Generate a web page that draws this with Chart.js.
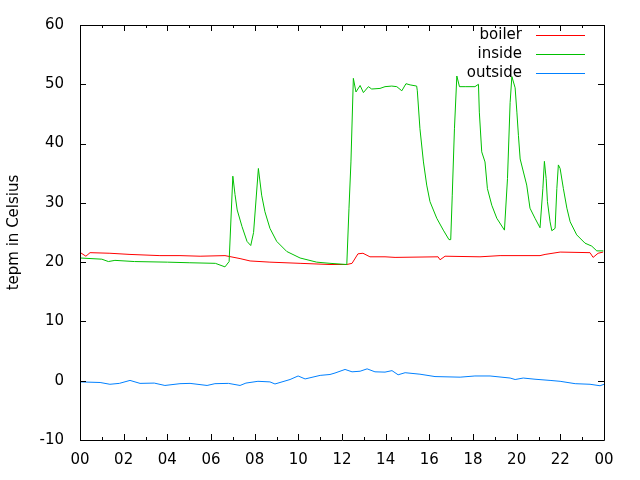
<!DOCTYPE html>
<html>
<head>
<meta charset="utf-8">
<script src="https://cdn.jsdelivr.net/npm/chart.js@4"></script>
<style>
  html, body { margin: 0; padding: 0; background: #fff; }
  canvas { display: block; }
</style>
</head>
<body>
<canvas id="tempChart" width="640" height="480"></canvas>
<script>
// Boiler temperature (red)
const boilerHours = [0, 0.27, 0.46, 1.37, 2.29, 3.66, 4.58, 5.5, 6.64, 7.33, 7.79, 8.7, 10.08, 11.45, 12.22,
  12.46, 12.73, 12.96, 13.28, 13.97, 14.43, 16.4, 16.49, 16.72, 18.32, 19.24, 21.07, 21.3, 21.99, 23.36,
  23.5, 23.73, 23.96];
const boilerTemps = [21.65, 21.0, 21.6, 21.5, 21.3, 21.1, 21.1, 21.0, 21.1, 20.6, 20.2, 20.0, 19.8, 19.6, 19.6,
  19.8, 21.4, 21.5, 20.9, 20.9, 20.8, 20.9, 20.4, 21.0, 20.9, 21.1, 21.1, 21.3, 21.7, 21.6,
  20.8, 21.5, 21.7];

// Inside temperature (green)
const insideHours = [0, 1.0, 1.3, 1.6, 2.5, 4.0, 5.0, 6.2, 6.64, 6.83, 7.0, 7.1, 7.2, 7.42, 7.65, 7.82, 7.95,
  8.17, 8.32, 8.47, 8.7, 9.01, 9.47, 10.08, 10.84, 11.45, 12.22, 12.32, 12.41, 12.52, 12.64, 12.83, 12.98,
  13.21, 13.36, 13.74, 13.97, 14.28, 14.51, 14.74, 14.93, 15.12, 15.42, 15.45, 15.57, 15.73, 15.88, 16.03,
  16.34, 16.64, 16.9, 16.98, 17.05, 17.15, 17.26, 17.38, 17.64, 18.09, 18.25, 18.29, 18.4, 18.55, 18.66,
  18.86, 19.09, 19.44, 19.58, 19.7, 19.78, 19.93, 20.01, 20.08, 20.16, 20.31, 20.46, 20.61, 20.84, 21.07,
  21.2, 21.27, 21.35, 21.41, 21.53, 21.61, 21.76, 21.84, 21.91, 21.99, 22.14, 22.3, 22.45, 22.75, 23.13,
  23.44, 23.67, 23.97];
const insideTemps = [20.7, 20.5, 20.1, 20.3, 20.1, 20.0, 19.9, 19.8, 19.2, 20.1, 34.5, 31.4, 28.8, 26.0, 23.5, 22.8, 25.0,
  35.8, 31.3, 28.5, 25.7, 23.5, 21.8, 20.7, 20.0, 19.8, 19.6, 29.1, 36.9, 51.0, 48.7, 49.8, 48.6,
  49.6, 49.2, 49.3, 49.6, 49.7, 49.6, 48.9, 50.1, 49.9, 49.7, 48.9, 42.5, 36.9, 33.0, 30.2,
  27.4, 25.4, 23.8, 23.8, 31.3, 42.5, 51.4, 49.6, 49.6, 49.6, 50.0, 45.3, 38.6, 36.9, 32.4,
  29.6, 27.4, 25.4, 34.1, 46.9, 51.3, 49.4, 45.3, 41.4, 37.4, 35.2, 33.0, 29.1, 27.4, 25.8,
  32.4, 37.0, 34.1, 30.2, 26.8, 25.3, 25.7, 32.4, 36.4, 35.8, 32.4, 29.1, 26.8, 24.6, 23.2,
  22.7, 21.9, 21.9];

// Outside temperature (blue)
const outsideHours = [0, 0.92, 1.37, 1.8, 2.29, 2.75, 3.4, 3.89, 4.58, 5.04, 5.82, 6.18, 6.8, 7.33, 7.6, 8.15,
  8.7, 8.93, 9.62, 9.99, 10.31, 11.0, 11.45, 11.68, 12.14, 12.46, 12.83, 13.15, 13.51, 13.97, 14.29, 14.57,
  14.89, 15.57, 16.26, 17.41, 18.09, 18.78, 19.7, 19.93, 20.3, 20.84, 21.53, 21.99, 22.68, 23.36, 23.82, 24];
const outsideTemps = [-0.2, -0.3, -0.6, -0.45, 0.05, -0.45, -0.4, -0.8, -0.5, -0.45, -0.8, -0.5, -0.45, -0.8, -0.4, -0.1,
  -0.2, -0.55, 0.2, 0.8, 0.3, 0.9, 1.05, 1.3, 1.9, 1.5, 1.6, 2.0, 1.5, 1.45, 1.7, 1.0,
  1.35, 1.1, 0.7, 0.6, 0.8, 0.8, 0.45, 0.2, 0.45, 0.25, 0.05, -0.1, -0.5, -0.6, -0.85, -0.6];

const seriesNames = ["boiler", "inside", "outside"];
const seriesColors = ["#ff0000", "#00c000", "#0080ff"];
const yTicks = [-10, 0, 10, 20, 30, 40, 50, 60];
const xLabelHours = [0, 2, 4, 6, 8, 10, 12, 14, 16, 18, 20, 22, 24];

const toPoints = (hours, temps) => hours.map((h, i) => ({ x: h, y: temps[i] }));

const FONT = "'DejaVu Sans', 'Liberation Sans', sans-serif";
Chart.defaults.font.family = FONT;
Chart.defaults.font.size = 15;
Chart.defaults.color = "#000";

// gnuplot-like frame, inward ticks and key
const gnuplotFrame = {
  id: "gnuplotFrame",
  afterDraw(chart) {
    const c = chart.ctx;
    const a = chart.chartArea;
    const xs = chart.scales.x;
    const ys = chart.scales.y;
    c.save();
    c.strokeStyle = "#000";
    c.lineWidth = 1;
    c.beginPath();
    c.rect(a.left + 0.5, a.top + 0.5, a.right - a.left, a.bottom - a.top);
    yTicks.forEach(v => {
      const py = Math.round(ys.getPixelForValue(v)) + 0.5;
      c.moveTo(a.left, py); c.lineTo(a.left + 6, py);
      c.moveTo(a.right, py); c.lineTo(a.right - 6, py);
    });
    for (let h = 0; h <= 24; h++) {
      const px = Math.round(xs.getPixelForValue(h)) + 0.5;
      const len = h % 2 === 0 ? 6 : 3;
      c.moveTo(px, a.bottom); c.lineTo(px, a.bottom - len);
      c.moveTo(px, a.top); c.lineTo(px, a.top + len);
    }
    c.stroke();

    // key
    c.font = "15px " + FONT;
    c.textAlign = "right";
    c.textBaseline = "middle";
    seriesNames.forEach((name, i) => {
      const y = 35 + i * 19;
      c.fillStyle = "#000";
      c.fillText(name, 522, y);
      c.beginPath();
      c.strokeStyle = seriesColors[i];
      c.moveTo(536, y + 0.5);
      c.lineTo(585, y + 0.5);
      c.stroke();
    });
    c.restore();
  }
};

new Chart(document.getElementById("tempChart"), {
  type: "line",
  data: {
    datasets: [
      { label: seriesNames[0], data: toPoints(boilerHours, boilerTemps), borderColor: seriesColors[0], order: 3 },
      { label: seriesNames[1], data: toPoints(insideHours, insideTemps), borderColor: seriesColors[1], order: 2 },
      { label: seriesNames[2], data: toPoints(outsideHours, outsideTemps), borderColor: seriesColors[2], order: 1 }
    ]
  },
  options: {
    responsive: false,
    animation: false,
    datasets: { line: { borderWidth: 1, pointRadius: 0, tension: 0, fill: false } },
    layout: { padding: { top: 22, right: 36, left: 0, bottom: 0 } },
    plugins: { legend: { display: false }, tooltip: { enabled: false } },
    scales: {
      x: {
        type: "linear",
        min: 0,
        max: 24,
        grid: { display: false, drawTicks: false },
        border: { display: false },
        afterFit: s => { s.height = 40; },
        afterBuildTicks: s => { s.ticks = xLabelHours.map(v => ({ value: v })); },
        ticks: {
          padding: 11,
          maxRotation: 0,
          autoSkip: false,
          callback: v => String(v % 24).padStart(2, "0")
        }
      },
      y: {
        min: -10,
        max: 60,
        grid: { display: false, drawTicks: false },
        border: { display: false },
        afterFit: s => { s.width = 80; },
        afterBuildTicks: s => { s.ticks = yTicks.map(v => ({ value: v })); },
        ticks: { padding: 16 },
        title: { display: true, text: "tepm in Celsius", padding: { top: 5, bottom: 0 } }
      }
    }
  },
  plugins: [gnuplotFrame]
});
</script>
</body>
</html>
